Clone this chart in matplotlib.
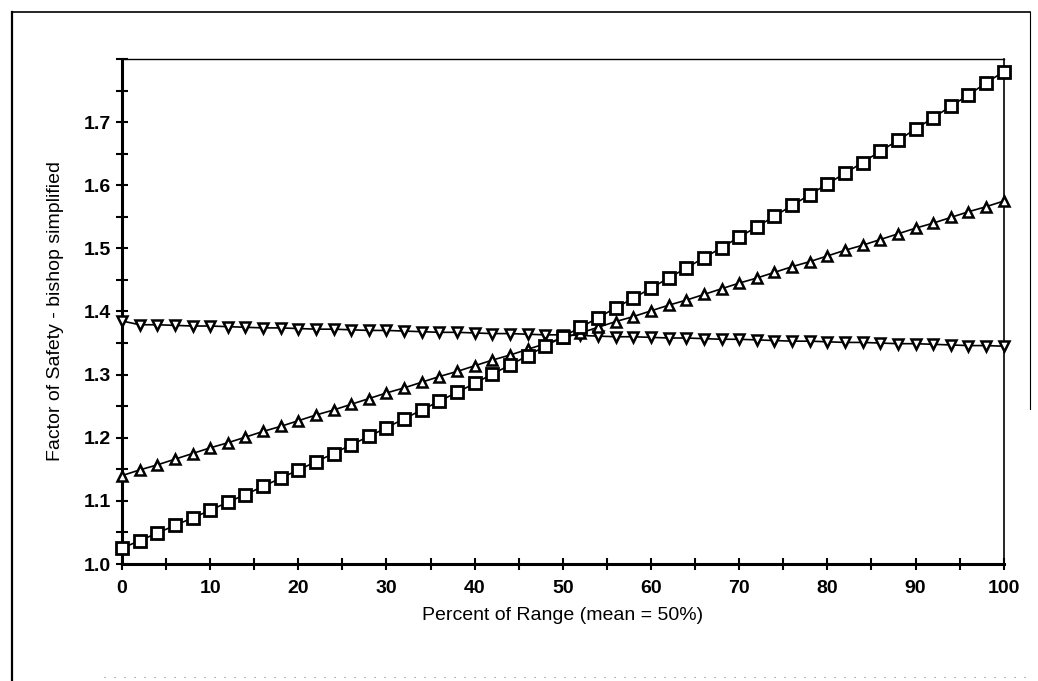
import numpy as np
import matplotlib
matplotlib.use("Agg")
import matplotlib.pyplot as plt
from matplotlib.ticker import MultipleLocator
from matplotlib.lines import Line2D

plt.rcParams['font.family'] = ['Liberation Sans', 'DejaVu Sans']

# percent of range, 0..100 in steps of 2
pct = list(range(0, 101, 2))

# square series (steepest)
fs_square = [1.025, 1.037, 1.049, 1.061, 1.073, 1.085, 1.098, 1.110, 1.123, 1.136,
             1.149, 1.162, 1.175, 1.189, 1.202, 1.216, 1.230, 1.244, 1.258, 1.272,
             1.286, 1.301, 1.315, 1.330, 1.345, 1.360, 1.375, 1.390, 1.406, 1.421,
             1.437, 1.453, 1.469, 1.485, 1.501, 1.518, 1.534, 1.551, 1.568, 1.585,
             1.602, 1.619, 1.636, 1.654, 1.671, 1.689, 1.707, 1.725, 1.743, 1.762,
             1.780]

# triangle-up series
fs_up = [1.140, 1.149, 1.157, 1.166, 1.175, 1.184, 1.192, 1.201, 1.210, 1.218,
         1.227, 1.236, 1.244, 1.253, 1.262, 1.271, 1.279, 1.288, 1.297, 1.305,
         1.314, 1.323, 1.331, 1.340, 1.349, 1.358, 1.366, 1.375, 1.384, 1.392,
         1.401, 1.410, 1.418, 1.427, 1.436, 1.445, 1.453, 1.462, 1.471, 1.479,
         1.488, 1.497, 1.505, 1.514, 1.523, 1.532, 1.540, 1.549, 1.558, 1.566,
         1.575]

# triangle-down series (almost flat)
fs_down = [1.385, 1.379, 1.379, 1.378, 1.377, 1.377, 1.376, 1.375, 1.374, 1.374,
           1.373, 1.372, 1.372, 1.371, 1.370, 1.370, 1.369, 1.368, 1.367, 1.367,
           1.366, 1.365, 1.365, 1.364, 1.363, 1.363, 1.362, 1.361, 1.360, 1.360,
           1.359, 1.358, 1.358, 1.357, 1.356, 1.356, 1.355, 1.354, 1.353, 1.353,
           1.352, 1.351, 1.351, 1.350, 1.349, 1.349, 1.348, 1.347, 1.346, 1.346,
           1.345]

y_ticks = [1.0, 1.1, 1.2, 1.3, 1.4, 1.5, 1.6, 1.7]
x_ticks = [0, 10, 20, 30, 40, 50, 60, 70, 80, 90, 100]

fig = plt.figure(figsize=(10.38, 6.81), dpi=100)
ax = fig.add_axes([0.1175, 0.1718, 0.8495, 0.7416])

ax.plot(pct, fs_down, color='black', lw=1.2, marker='v', ms=7.5,
        mfc='white', mec='black', mew=1.8, clip_on=False, zorder=3)
ax.plot(pct, fs_up, color='black', lw=1.2, marker='^', ms=7,
        mfc='white', mec='black', mew=1.8, clip_on=False, zorder=4)
ax.plot(pct, fs_square, color='black', lw=1.2, marker='s', ms=9,
        mfc='white', mec='black', mew=2.0, clip_on=False, zorder=5)

ax.set_xlim(0, 100)
ax.set_ylim(1.0, 1.8)
ax.set_yticks(y_ticks)
ax.set_yticklabels([f"{v:.1f}" for v in y_ticks])
ax.set_xticks(x_ticks)
ax.xaxis.set_minor_locator(MultipleLocator(5))
ax.yaxis.set_minor_locator(MultipleLocator(0.05))
ax.tick_params(which='both', direction='inout', length=9, width=1.5,
               labelsize=14, colors='black')
ax.tick_params(axis='x', which='both', pad=7)
ax.tick_params(top=False, right=False, which='both')
for lbl in ax.get_xticklabels() + ax.get_yticklabels():
    lbl.set_fontweight('bold')

ax.spines['left'].set_linewidth(2.2)
ax.spines['bottom'].set_linewidth(2.2)
ax.spines['top'].set_linewidth(1.0)
ax.spines['right'].set_linewidth(1.2)

ax.set_xlabel("Percent of Range (mean = 50%)", fontsize=14, labelpad=7)
ax.set_ylabel("Factor of Safety - bishop simplified", fontsize=14, labelpad=14)

# outer chart frame
fig.add_artist(Line2D([0.012, 0.992], [0.982, 0.982], transform=fig.transFigure,
                      color='black', lw=1.2))
fig.add_artist(Line2D([0.012, 0.012], [0.0, 0.982], transform=fig.transFigure,
                      color='black', lw=1.6))
fig.add_artist(Line2D([0.992, 0.992], [0.40, 0.982], transform=fig.transFigure,
                      color='black', lw=0.8))
fig.add_artist(Line2D([0.1, 0.99], [0.006, 0.006], transform=fig.transFigure,
                      color='gray', lw=0.8, ls=(0, (1, 8))))

fig.savefig("out.png", dpi=100)
